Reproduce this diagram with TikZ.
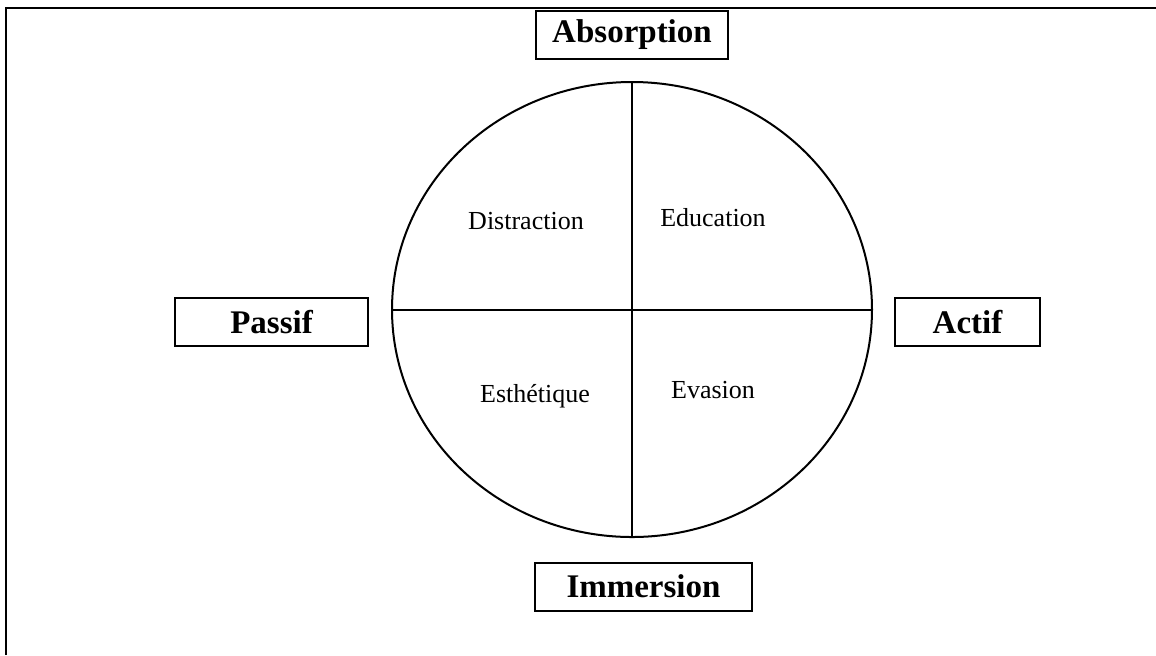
\documentclass[tikz,border=0pt]{standalone}
\usepackage{fontspec}
\setmainfont{Liberation Serif}
\usetikzlibrary{shapes.geometric}

\begin{document}
\begin{tikzpicture} [
            x=0.5pt, y=-0.5pt,
            frame/.style = {draw,line width=1.2pt},
            wheel/.style = {ellipse,draw,line width=1pt,minimum width=240pt,minimum height=227.5pt,inner sep=0pt},
            split/.style = {draw,line width=1pt,-},
            axis box/.style = {rectangle,draw,line width=1pt,minimum height=24pt,inner sep=0pt,font=\fontsize{16.5}{19}\selectfont\bfseries},
            quadrant/.style = {font=\fontsize{13}{15}\selectfont},
        ]
        \useasboundingbox (0,0) rectangle (1156,655);
        % outer frame (only top and left sides show)
        \path[frame] (6,655) -- (6,8) -- (1156,8);
        % the wheel and its two axes
        \node[wheel] (w) at (632,309.5) {};
        \path[split] (w.west) -- (w.east);
        \path[split] (w.north) -- (w.south);
        % labels of the four axes
        \foreach \pos/\name/\boxw/\label in {
                {(632,34.5)/absorption/96/Absorption},
                {(643.5,586.5)/immersion/108.5/Immersion},
                {(271.5,322)/passif/96.5/Passif},
                {(967.5,322)/actif/72.5/Actif}}
            \node[axis box,minimum width=\boxw pt] (\name) at \pos {\label};
        % the four quadrants
        \foreach \pos/\name/\label in {
                {(526,221)/distraction/Distraction},
                {(713,218)/education/Education},
                {(535,396)/esthetique/Esthétique},
                {(713,390)/evasion/Evasion}}
            \node[quadrant] (\name) at \pos {\label};
    \end{tikzpicture}
\end{document}
